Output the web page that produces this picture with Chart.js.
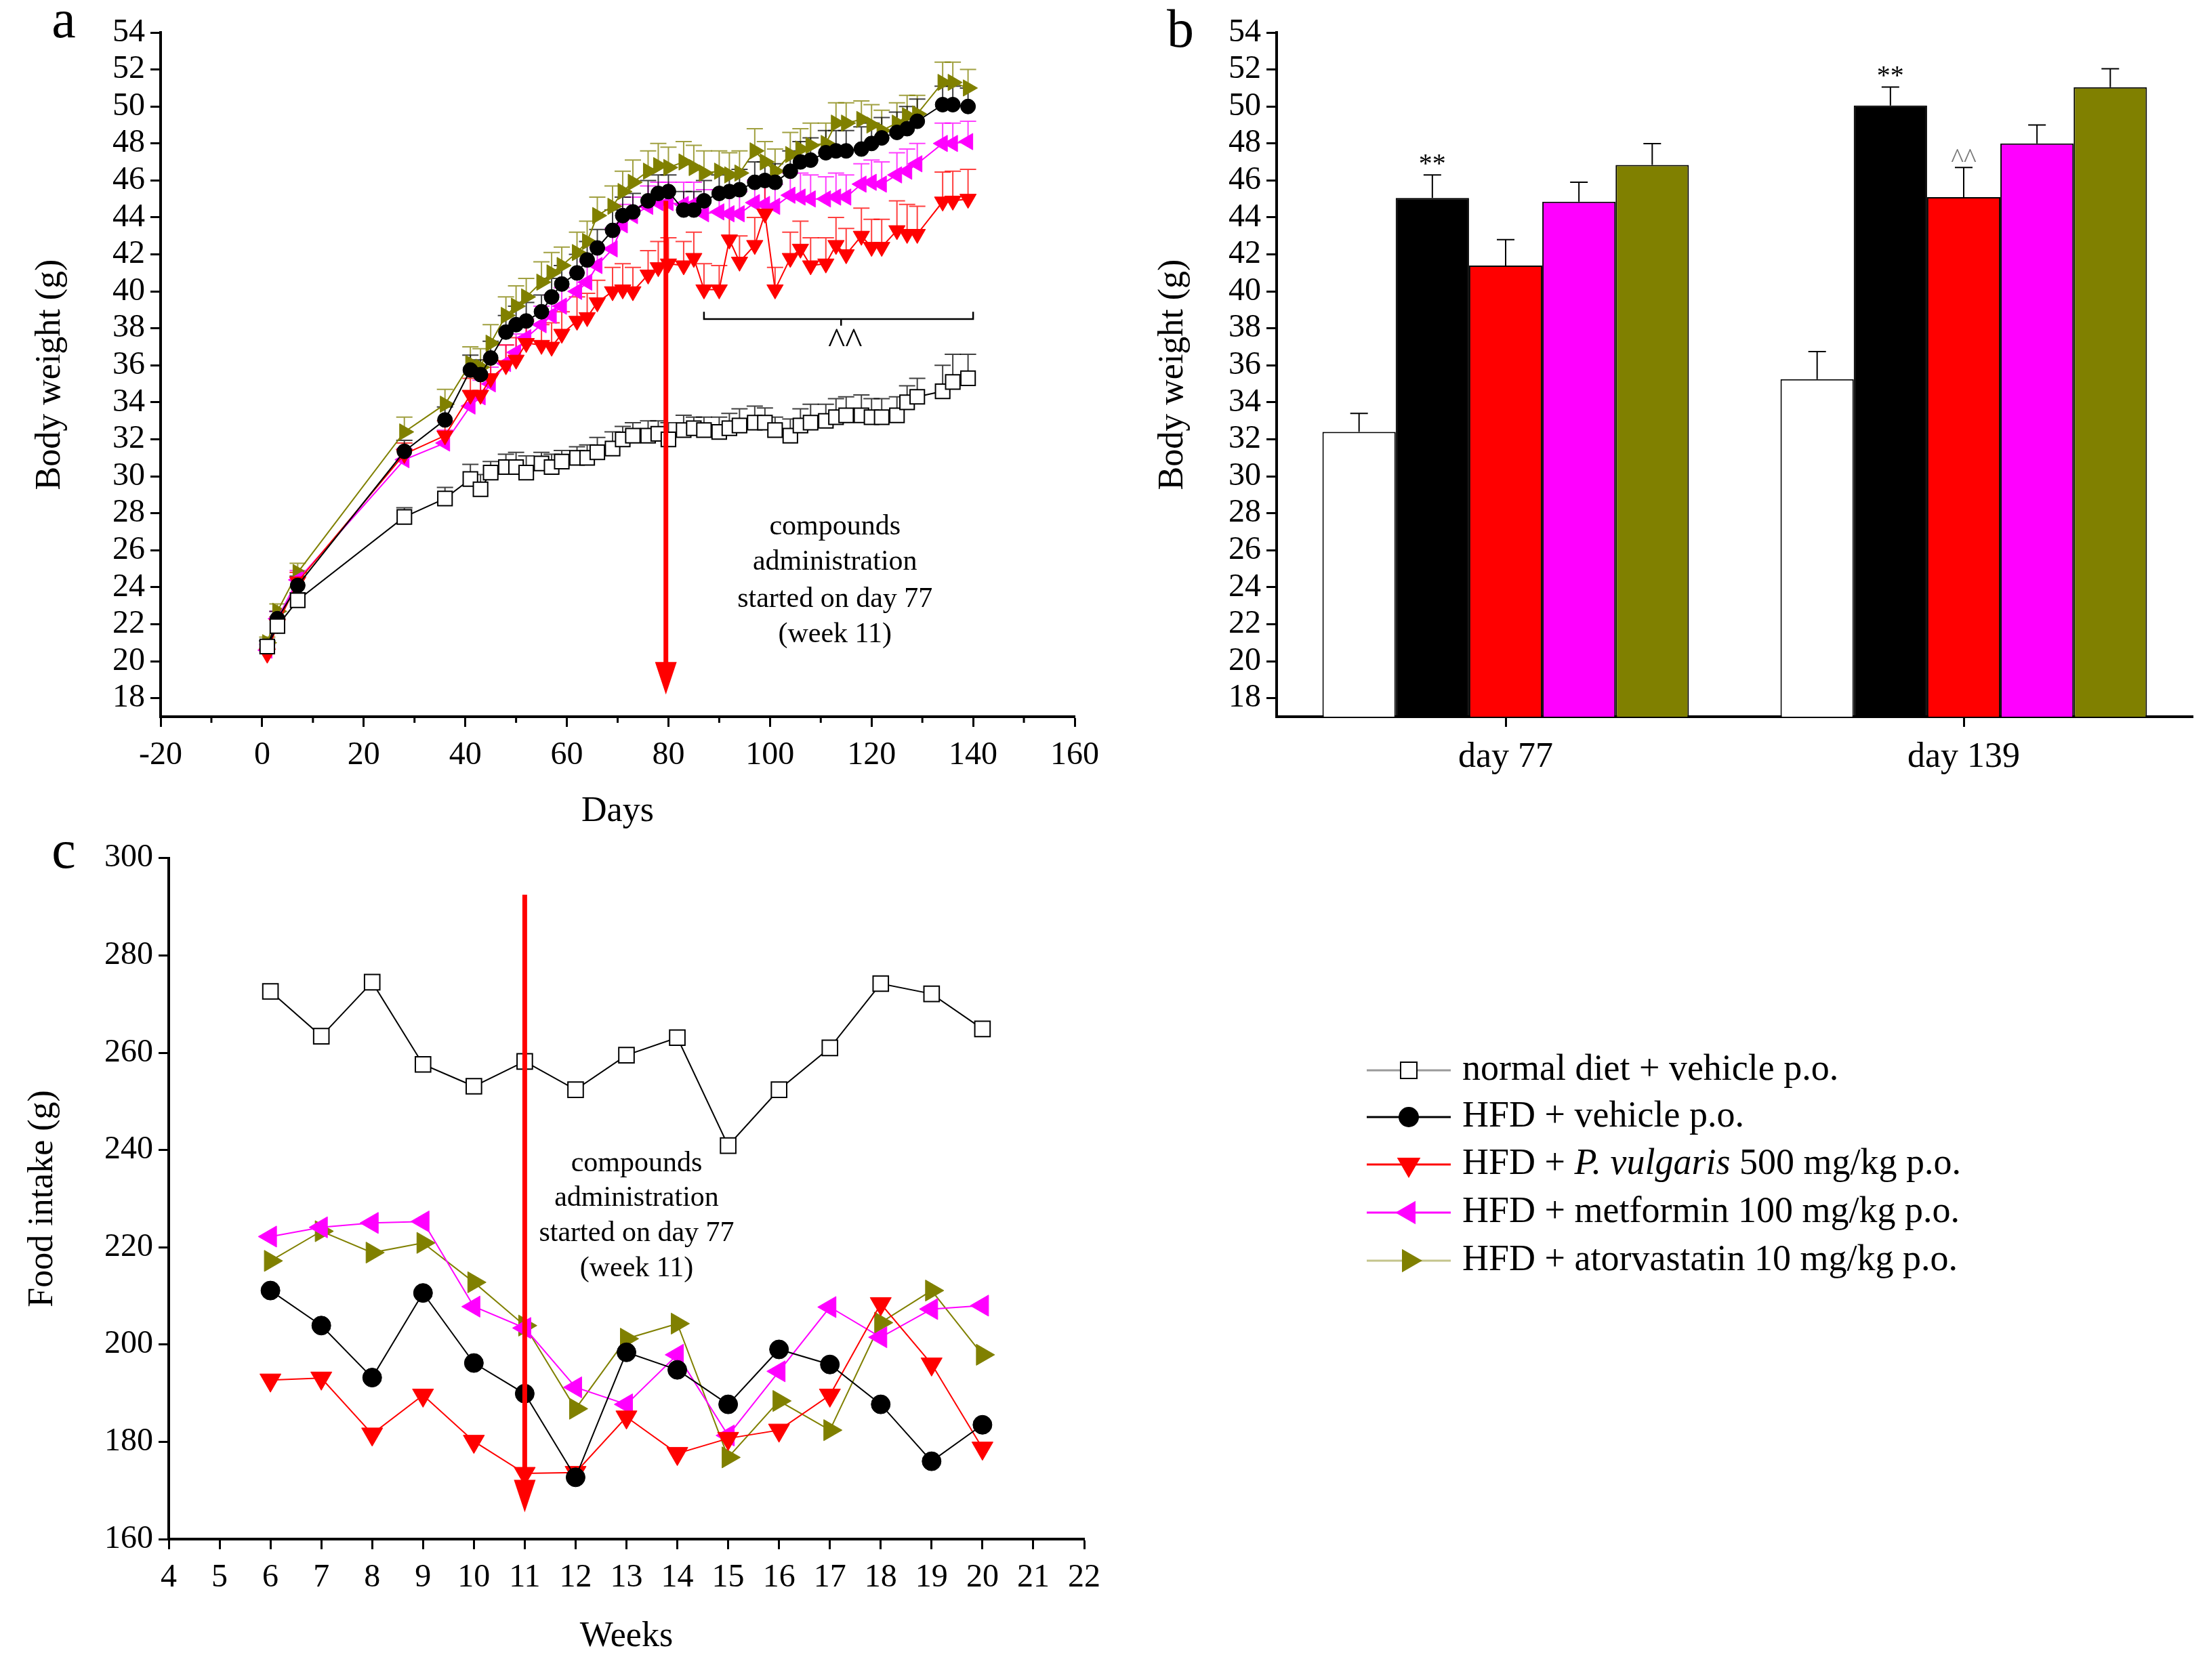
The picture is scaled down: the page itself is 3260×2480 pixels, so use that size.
<!DOCTYPE html>
<html>
<head>
<meta charset="utf-8">
<script src="https://cdn.jsdelivr.net/npm/chart.js@4.4.1/dist/chart.umd.min.js"></script>
<style>
  html, body { margin: 0; padding: 0; background: #fff; }
  #page { position: relative; width: 3260px; height: 2480px; overflow: hidden; background: #fff; }
  .panel { position: absolute; }
</style>
</head>
<body>
<div id="page">
  <div class="panel" style="left:0;top:0;width:1650px;height:1250px"><canvas id="chartA"></canvas></div>
  <div class="panel" style="left:1650px;top:0;width:1610px;height:1250px"><canvas id="chartB"></canvas></div>
  <div class="panel" style="left:0;top:1230px;width:3260px;height:1250px"><canvas id="chartC"></canvas></div>
</div>
<script>
const FONT = 'Liberation Serif';

// ---- panel a: body weight over days ----
const daysA = [1, 3, 7, 28, 36, 41, 43, 45, 48, 50, 52, 55, 57, 59, 62, 64, 66, 69, 71, 73, 76, 78, 80,
  83, 85, 87, 90, 92, 94, 97, 99, 101, 104, 106, 108, 111, 113, 115, 118, 120, 122, 125, 127, 129, 134, 136, 139];
const weightNormal = [20.8, 21.9, 23.3, 27.8, 28.8, 29.85, 29.3, 30.2, 30.5, 30.5, 30.2, 30.7, 30.5, 30.8,
  31.0, 31.0, 31.3, 31.5, 32.0, 32.2, 32.2, 32.3, 32.0, 32.5, 32.6, 32.5, 32.4, 32.6, 32.75, 32.9, 32.9, 32.5,
  32.2, 32.75, 32.9, 33.0, 33.2, 33.3, 33.3, 33.2, 33.2, 33.3, 34.0, 34.3, 34.6, 35.1, 35.3];
const weightHfd = [20.8, 22.3, 24.1, 31.35, 33.05, 35.75, 35.5, 36.4, 37.8, 38.2, 38.4, 38.9, 39.7, 40.4,
  41.0, 41.7, 42.35, 43.3, 44.1, 44.3, 44.9, 45.3, 45.4, 44.4, 44.4, 44.9, 45.3, 45.4, 45.5, 45.9, 46.0, 45.9,
  46.5, 47.0, 47.1, 47.5, 47.6, 47.6, 47.7, 48.0, 48.3, 48.6, 48.8, 49.2, 50.1, 50.1, 50.0];
const weightVulgaris = [20.4, 22.0, 24.3, 31.2, 32.2, 34.4, 34.4, 35.3, 36.0, 36.3, 37.2, 37.1, 37.0, 37.7,
  38.4, 38.6, 39.4, 40.0, 40.1, 40.0, 40.9, 41.3, 41.5, 41.4, 41.8, 40.1, 40.1, 42.8, 41.6, 42.5, 44.2, 40.1,
  41.8, 42.3, 41.4, 41.5, 42.5, 42.0, 43.0, 42.4, 42.4, 43.3, 43.1, 43.1, 44.85, 44.9, 45.0];
const weightMetformin = [20.6, 22.3, 24.4, 30.9, 31.8, 33.8, 34.3, 35.0, 36.1, 36.7, 37.5, 38.2, 38.7, 39.2,
  40.0, 40.5, 41.4, 42.3, 43.6, 44.1, 44.6, 44.8, 44.8, 44.7, 44.7, 44.2, 44.3, 44.2, 44.2, 44.8, 44.7, 44.6,
  45.2, 45.1, 45.0, 45.0, 45.1, 45.1, 45.8, 45.9, 45.8, 46.3, 46.5, 46.9, 48.0, 48.0, 48.1];
const weightAtorva = [21.0, 22.7, 24.8, 32.4, 33.9, 36.1, 35.9, 37.2, 38.7, 39.2, 39.7, 40.5, 41.0, 41.4,
  42.1, 42.7, 44.1, 44.6, 45.4, 45.9, 46.5, 46.8, 46.7, 47.0, 46.7, 46.4, 46.5, 46.3, 46.4, 47.6, 47.0, 46.5,
  47.4, 47.7, 47.9, 48.0, 49.1, 49.1, 49.3, 49.0, 48.7, 49.1, 49.5, 49.6, 51.3, 51.3, 51.0];

const semNormal = [0.3, 0.4, 0.4, 0.5, 0.6, 0.8, 0.8, 0.6, 0.7, 0.8, 0.9, 0.6, 0.7, 0.6, 0.6, 0.7, 0.8, 0.9,
  0.7, 0.7, 0.8, 0.7, 0.9, 0.8, 0.6, 0.7, 0.8, 0.8, 0.9, 0.9, 0.8, 0.7, 0.9, 0.9, 1.0, 0.9, 1.0, 1.0, 1.1, 1.0,
  1.0, 1.0, 0.9, 1.0, 1.4, 1.5, 1.3];
const semHfd = [0.3, 0.4, 0.5, 0.6, 0.7, 0.8, 0.8, 0.9, 0.9, 1.0, 1.0, 0.9, 1.0, 1.0, 1.0, 1.0, 1.0, 1.1, 1.0,
  1.0, 1.1, 1.0, 0.9, 1.0, 1.0, 1.1, 1.0, 1.0, 1.1, 1.1, 1.0, 1.0, 1.1, 1.1, 1.2, 1.2, 1.1, 1.1, 1.2, 1.1, 1.1,
  1.1, 1.2, 1.2, 1.0, 1.0, 1.0];
const semVulgaris = [0.3, 0.4, 0.5, 0.6, 0.8, 0.9, 1.0, 1.0, 1.1, 1.2, 1.2, 1.1, 1.3, 1.2, 1.3, 1.3, 1.2, 1.3,
  1.4, 1.3, 1.3, 1.4, 1.4, 1.3, 1.4, 1.4, 1.3, 1.3, 1.4, 1.5, 1.5, 1.2, 1.4, 1.5, 1.5, 1.4, 1.5, 1.4, 1.5, 1.5,
  1.5, 1.6, 1.6, 1.5, 1.6, 1.6, 1.6];
const semMetformin = [0.3, 0.4, 0.5, 0.6, 0.7, 0.8, 0.9, 0.9, 1.0, 1.0, 1.0, 1.0, 1.1, 1.0, 1.0, 1.1, 1.0, 1.1,
  1.1, 1.0, 1.1, 1.1, 1.1, 1.2, 1.2, 1.3, 1.2, 1.3, 1.2, 1.2, 1.3, 1.2, 1.2, 1.3, 1.3, 1.2, 1.3, 1.2, 1.1, 1.2,
  1.2, 1.2, 1.2, 1.1, 1.1, 1.1, 1.1];
const semAtorva = [0.3, 0.4, 0.5, 0.8, 0.8, 0.9, 1.0, 1.0, 1.0, 1.1, 1.0, 1.1, 1.1, 1.0, 1.1, 1.1, 1.0, 1.1,
  1.1, 1.2, 1.1, 1.2, 1.1, 1.1, 1.2, 1.2, 1.1, 1.2, 1.2, 1.2, 1.1, 1.2, 1.2, 1.1, 1.2, 1.1, 1.1, 1.1, 1.0, 1.1,
  1.1, 1.1, 1.1, 1.0, 1.1, 1.1, 1.0];

const tickDaysA = [-20, 0, 20, 40, 60, 80, 100, 120, 140, 160];
const minorDaysA = [-10, 10, 30, 50, 70, 90, 110, 130, 150];
const tickWeight = [18, 20, 22, 24, 26, 28, 30, 32, 34, 36, 38, 40, 42, 44, 46, 48, 50, 52, 54];

// ---- panel b: body weight at day 77 and day 139 ----
const barDays = ['day 77', 'day 139'];
const barNormal = [32.4, 35.25];
const barHfd = [45.05, 50.05];
const barVulgaris = [41.4, 45.1];
const barMetformin = [44.85, 48.0];
const barAtorva = [46.84, 51.04];
const barSemNormal = [1.0, 1.5];
const barSemHfd = [1.25, 1.0];
const barSemVulgaris = [1.4, 1.6];
const barSemMetformin = [1.05, 1.0];
const barSemAtorva = [1.15, 1.0];

// ---- panel c: weekly food intake ----
const weeksC = [6, 7, 8, 9, 10, 11, 12, 13, 14, 15, 16, 17, 18, 19, 20];
const foodNormal = [272.6, 263.4, 274.5, 257.6, 253.1, 258.2, 252.4, 259.5, 263.1, 240.9, 252.4, 261.0, 274.2, 272.1, 264.9];
const foodHfd = [211.1, 203.9, 193.2, 210.6, 196.2, 189.9, 172.7, 198.4, 194.8, 187.7, 199.0, 195.9, 187.7, 176.0, 183.5];
const foodVulgaris = [192.7, 193.1, 181.6, 189.6, 180.1, 173.5, 173.7, 185.1, 177.6, 180.7, 182.4, 189.6, 208.4, 196.0, 178.7];
const foodMetformin = [222.2, 224.1, 225.0, 225.3, 207.8, 203.4, 191.2, 187.7, 197.9, 181.3, 194.5, 207.7, 201.5, 207.3, 208.0];
const foodAtorva = [217.2, 223.3, 218.9, 220.9, 212.8, 203.9, 186.8, 201.2, 204.3, 176.8, 188.4, 182.4, 204.5, 211.1, 197.9];
const tickWeeks = [4, 5, 6, 7, 8, 9, 10, 11, 12, 13, 14, 15, 16, 17, 18, 19, 20, 21, 22];
const tickFood = [160, 180, 200, 220, 240, 260, 280, 300];

const groupNames = [
  'normal diet + vehicle p.o.',
  'HFD + vehicle p.o.',
  'HFD + P. vulgaris 500 mg/kg p.o.',
  'HFD + metformin 100 mg/kg p.o.',
  'HFD + atorvastatin 10 mg/kg p.o.',
];
const noteLines = ['compounds', 'administration', 'started on day 77', '(week 11)'];

const RED = '#ff0000';
const MAGENTA = '#ff00ff';
const OLIVE = '#808000';

const groupStyles = [
  { color: '#000000', fill: '#ffffff', point: 'rect', rot: 0, legendLine: '#9a9a9a' },
  { color: '#000000', fill: '#000000', point: 'circle', rot: 0, legendLine: '#000000' },
  { color: RED, fill: RED, point: 'triangle', rot: 180, legendLine: RED },
  { color: MAGENTA, fill: MAGENTA, point: 'triangle', rot: 270, legendLine: MAGENTA },
  { color: OLIVE, fill: OLIVE, point: 'triangle', rot: 90, legendLine: '#c4c48c' },
];

function xy(xs, ys) {
  return xs.map((x, i) => ({ x, y: ys[i] }));
}

function fixedAxis(size) {
  return (scale) => {
    if (scale.isHorizontal()) scale.height = size;
    else scale.width = size;
  };
}

function axis(o) {
  const a = {
    type: o.type || 'linear',
    afterFit: fixedAxis(o.size),
    ticks: {
      color: '#000',
      font: { family: FONT, size: o.fontSize },
      padding: o.pad,
      autoSkip: false,
      maxRotation: 0,
    },
    grid: {
      display: true,
      drawOnChartArea: false,
      drawTicks: true,
      tickLength: 15,
      tickWidth: 3,
      tickColor: '#000',
      offset: false,
    },
    border: { display: true, color: '#000', width: 4 },
    title: {
      display: !!o.title,
      text: o.title,
      color: '#000',
      font: { family: FONT, size: o.titleSize || 52 },
      padding: o.titlePad,
    },
  };
  if (o.ticksAt) {
    a.min = o.min;
    a.max = o.max;
    a.afterBuildTicks = (scale) => {
      scale.ticks = o.ticksAt.map((v) => ({ value: v }));
    };
  }
  return a;
}

function lineSet(i, xs, ys, sem, radius) {
  const s = groupStyles[i];
  return {
    label: groupNames[i],
    data: xy(xs, ys),
    sem,
    borderColor: s.color,
    borderWidth: 2,
    pointStyle: s.point,
    pointRotation: s.rot,
    pointRadius: radius,
    pointBackgroundColor: s.fill,
    pointBorderColor: s.color,
    pointBorderWidth: s.point === 'rect' ? 2 : 1,
    tension: 0,
    fill: false,
  };
}

// Upward SEM whiskers for the line panels.
const lineSemPlugin = {
  id: 'lineSem',
  beforeDatasetsDraw(chart) {
    const { ctx } = chart;
    const ys = chart.scales.y;
    ctx.save();
    ctx.lineWidth = 2;
    for (let di = chart.data.datasets.length - 1; di >= 0; di--) {
      const ds = chart.data.datasets[di];
      if (!ds.sem) continue;
      ctx.strokeStyle = ds.borderColor;
      ctx.globalAlpha = 0.75;
      chart.getDatasetMeta(di).data.forEach((pt, i) => {
        const top = ys.getPixelForValue(ds.data[i].y + ds.sem[i]);
        ctx.beginPath();
        ctx.moveTo(pt.x, pt.y);
        ctx.lineTo(pt.x, top);
        ctx.moveTo(pt.x - 12, top);
        ctx.lineTo(pt.x + 12, top);
        ctx.stroke();
      });
    }
    ctx.restore();
  },
};

// Upward SEM whiskers for the bar panel.
const barSemPlugin = {
  id: 'barSem',
  afterDatasetsDraw(chart) {
    const { ctx } = chart;
    const ys = chart.scales.y;
    ctx.save();
    ctx.lineWidth = 2;
    ctx.strokeStyle = '#000';
    chart.data.datasets.forEach((ds, di) => {
      chart.getDatasetMeta(di).data.forEach((bar, i) => {
        const top = ys.getPixelForValue(ds.data[i] + ds.sem[i]);
        ctx.beginPath();
        ctx.moveTo(bar.x, bar.y);
        ctx.lineTo(bar.x, top);
        ctx.moveTo(bar.x - 13, top);
        ctx.lineTo(bar.x + 13, top);
        ctx.stroke();
      });
    });
    ctx.restore();
  },
};

function drawArrow(chart, xv, fromV, toV) {
  const { ctx } = chart;
  const x = chart.scales.x.getPixelForValue(xv);
  const y0 = chart.scales.y.getPixelForValue(fromV);
  const y1 = chart.scales.y.getPixelForValue(toV);
  ctx.save();
  ctx.strokeStyle = RED;
  ctx.fillStyle = RED;
  ctx.lineWidth = 7;
  ctx.beginPath();
  ctx.moveTo(x, y0);
  ctx.lineTo(x, y1 - 40);
  ctx.stroke();
  ctx.beginPath();
  ctx.moveTo(x - 16, y1 - 48);
  ctx.lineTo(x + 16, y1 - 48);
  ctx.lineTo(x, y1);
  ctx.closePath();
  ctx.fill();
  ctx.restore();
}

function drawNote(chart, xv, yvs, size) {
  const { ctx } = chart;
  ctx.save();
  ctx.fillStyle = '#000';
  ctx.font = `${size}px "${FONT}"`;
  ctx.textAlign = 'center';
  ctx.textBaseline = 'middle';
  const x = chart.scales.x.getPixelForValue(xv);
  noteLines.forEach((line, i) => {
    ctx.fillText(line, x, chart.scales.y.getPixelForValue(yvs[i]));
  });
  ctx.restore();
}

const panelLetterPlugin = {
  id: 'panelLetter',
  afterDraw(chart, args, opts) {
    const { ctx } = chart;
    ctx.save();
    ctx.fillStyle = '#000';
    ctx.font = `80px "${FONT}"`;
    ctx.textAlign = 'center';
    ctx.textBaseline = 'middle';
    ctx.fillText(opts.text, opts.x, opts.y);
    ctx.restore();
  },
};

const minorTickPlugin = {
  id: 'minorTicks',
  afterDraw(chart, args, opts) {
    if (!opts.values) return;
    const { ctx } = chart;
    const xs = chart.scales.x;
    const y = chart.chartArea.bottom;
    ctx.save();
    ctx.strokeStyle = '#000';
    ctx.lineWidth = 3;
    opts.values.forEach((v) => {
      const x = xs.getPixelForValue(v);
      ctx.beginPath();
      ctx.moveTo(x, y);
      ctx.lineTo(x, y + 9);
      ctx.stroke();
    });
    ctx.restore();
  },
};

const panelANotes = {
  id: 'panelANotes',
  afterDatasetsDraw(chart) {
    const { ctx } = chart;
    const xs = chart.scales.x;
    const ys = chart.scales.y;
    drawArrow(chart, 79.5, 44.9, 18.2);
    // bracket over the treatment period
    const xl = xs.getPixelForValue(87);
    const xr = xs.getPixelForValue(140);
    const xm = xs.getPixelForValue(114);
    const yb = ys.getPixelForValue(38.5);
    ctx.save();
    ctx.strokeStyle = '#000';
    ctx.lineWidth = 2.5;
    ctx.beginPath();
    ctx.moveTo(xl, ys.getPixelForValue(38.9));
    ctx.lineTo(xl, yb);
    ctx.lineTo(xr, yb);
    ctx.lineTo(xr, ys.getPixelForValue(38.9));
    ctx.moveTo(xm, yb);
    ctx.lineTo(xm, ys.getPixelForValue(38.15));
    ctx.stroke();
    ctx.fillStyle = '#000';
    ctx.font = `54px "${FONT}"`;
    ctx.textAlign = 'center';
    ctx.textBaseline = 'middle';
    ctx.fillText('^^', xm + 6, ys.getPixelForValue(37.2));
    ctx.restore();
    drawNote(chart, 112.8, [27.25, 25.35, 23.35, 21.45], 42);
  },
};

const panelBNotes = {
  id: 'panelBNotes',
  afterDatasetsDraw(chart) {
    const { ctx } = chart;
    const ys = chart.scales.y;
    const marks = [
      { ds: 1, i: 0, text: '**', v: 46.85, color: '#000' },
      { ds: 1, i: 1, text: '**', v: 51.6, color: '#000' },
      { ds: 2, i: 1, text: '^^', v: 47.1, color: '#777' },
    ];
    ctx.save();
    ctx.font = `40px "${FONT}"`;
    ctx.textAlign = 'center';
    ctx.textBaseline = 'middle';
    marks.forEach((m) => {
      const bar = chart.getDatasetMeta(m.ds).data[m.i];
      ctx.fillStyle = m.color;
      ctx.fillText(m.text, bar.x, ys.getPixelForValue(m.v));
    });
    ctx.restore();
  },
};

const panelCNotes = {
  id: 'panelCNotes',
  afterDatasetsDraw(chart) {
    drawArrow(chart, 11, 292.5, 165.5);
    drawNote(chart, 13.2, [237.2, 230.0, 222.8, 215.6], 42);
  },
  afterDraw(chart) {
    // legend to the right of panel c, built from the datasets
    const { ctx } = chart;
    const rows = [350, 419, 489, 560, 631];
    ctx.save();
    chart.data.datasets.forEach((ds, i) => {
      const s = groupStyles[i];
      const y = rows[i];
      ctx.strokeStyle = s.legendLine;
      ctx.lineWidth = 3;
      ctx.beginPath();
      ctx.moveTo(2017, y);
      ctx.lineTo(2141, y);
      ctx.stroke();
      ctx.fillStyle = s.fill;
      ctx.strokeStyle = s.color;
      ctx.lineWidth = 2;
      const r = s.point === 'rect' ? 17 : s.point === 'circle' ? 14 : 18;
      Chart.helpers.drawPoint(ctx, { pointStyle: s.point, rotation: s.rot, radius: r, borderWidth: 2 }, 2079, y);
      ctx.fillStyle = '#000';
      ctx.textBaseline = 'middle';
      ctx.textAlign = 'left';
      const label = ds.label;
      const k = label.indexOf('P. vulgaris');
      let x = 2158;
      const parts = k < 0 ? [[label, false]] :
        [[label.slice(0, k), false], ['P. vulgaris', true], [label.slice(k + 11), false]];
      parts.forEach(([t, it]) => {
        ctx.font = `${it ? 'italic ' : ''}54px "${FONT}"`;
        ctx.fillText(t, x, y);
        x += ctx.measureText(t).width;
      });
    });
    ctx.restore();
  },
};

Chart.defaults.font.family = FONT;
Chart.defaults.color = '#000';

new Chart(document.getElementById('chartA'), {
  type: 'line',
  data: {
    datasets: [
      lineSet(0, daysA, weightNormal, semNormal, 15),
      lineSet(1, daysA, weightHfd, semHfd, 11),
      lineSet(2, daysA, weightVulgaris, semVulgaris, 14),
      lineSet(3, daysA, weightMetformin, semMetformin, 14),
      lineSet(4, daysA, weightAtorva, semAtorva, 14),
    ],
  },
  options: {
    responsive: true,
    maintainAspectRatio: false,
    devicePixelRatio: 1,
    animation: false,
    layout: { padding: { left: 0, top: 48, right: 64, bottom: 0 } },
    plugins: {
      legend: { display: false },
      tooltip: { enabled: false },
      panelLetter: { text: 'a', x: 94, y: 34 },
      minorTicks: { values: minorDaysA },
    },
    scales: {
      x: axis({ min: -20, max: 160, ticksAt: tickDaysA, size: 192, fontSize: 48, pad: 14,
        title: 'Days', titlePad: { top: 0, bottom: 20 } }),
      y: axis({ min: 17, max: 54, ticksAt: tickWeight, size: 237, fontSize: 48, pad: 8,
        title: 'Body weight (g)', titlePad: { top: 43, bottom: 0 } }),
    },
  },
  plugins: [lineSemPlugin, panelANotes, panelLetterPlugin, minorTickPlugin],
});

function barSet(i, values, sem) {
  const s = groupStyles[i];
  return {
    label: groupNames[i],
    data: values,
    sem,
    backgroundColor: s.fill,
    borderColor: '#000',
    borderWidth: 2,
    categoryPercentage: 0.8,
    barPercentage: 1.0,
  };
}

new Chart(document.getElementById('chartB'), {
  type: 'bar',
  data: {
    labels: barDays,
    datasets: [
      barSet(0, barNormal, barSemNormal),
      barSet(1, barHfd, barSemHfd),
      barSet(2, barVulgaris, barSemVulgaris),
      barSet(3, barMetformin, barSemMetformin),
      barSet(4, barAtorva, barSemAtorva),
    ],
  },
  options: {
    responsive: true,
    maintainAspectRatio: false,
    devicePixelRatio: 1,
    animation: false,
    layout: { padding: { left: 0, top: 48, right: 24, bottom: 0 } },
    plugins: {
      legend: { display: false },
      tooltip: { enabled: false },
      panelLetter: { text: 'b', x: 92, y: 48 },
    },
    scales: {
      x: axis({ type: 'category', size: 192, fontSize: 52, pad: 14 }),
      y: axis({ min: 17, max: 54, ticksAt: tickWeight, size: 234, fontSize: 48, pad: 8,
        title: 'Body weight (g)', titlePad: { top: 50, bottom: 0 } }),
    },
  },
  plugins: [barSemPlugin, panelBNotes, panelLetterPlugin],
});

new Chart(document.getElementById('chartC'), {
  type: 'line',
  data: {
    datasets: [
      lineSet(0, weeksC, foodNormal, null, 16),
      lineSet(1, weeksC, foodHfd, null, 14),
      lineSet(2, weeksC, foodVulgaris, null, 18),
      lineSet(3, weeksC, foodMetformin, null, 18),
      lineSet(4, weeksC, foodAtorva, null, 18),
    ],
  },
  options: {
    responsive: true,
    maintainAspectRatio: false,
    devicePixelRatio: 1,
    animation: false,
    layout: { padding: { left: 0, top: 34, right: 1660, bottom: 0 } },
    plugins: {
      legend: { display: false },
      tooltip: { enabled: false },
      panelLetter: { text: 'c', x: 94, y: 30 },
    },
    scales: {
      x: axis({ min: 4, max: 22, ticksAt: tickWeeks, size: 208, fontSize: 48, pad: 14,
        title: 'Weeks', titlePad: { top: 0, bottom: 32 } }),
      y: axis({ min: 160, max: 300, ticksAt: tickFood, size: 249, fontSize: 48, pad: 8,
        title: 'Food intake (g)', titlePad: { top: 32, bottom: 0 } }),
    },
  },
  plugins: [panelCNotes, panelLetterPlugin],
});
</script>
</body>
</html>
